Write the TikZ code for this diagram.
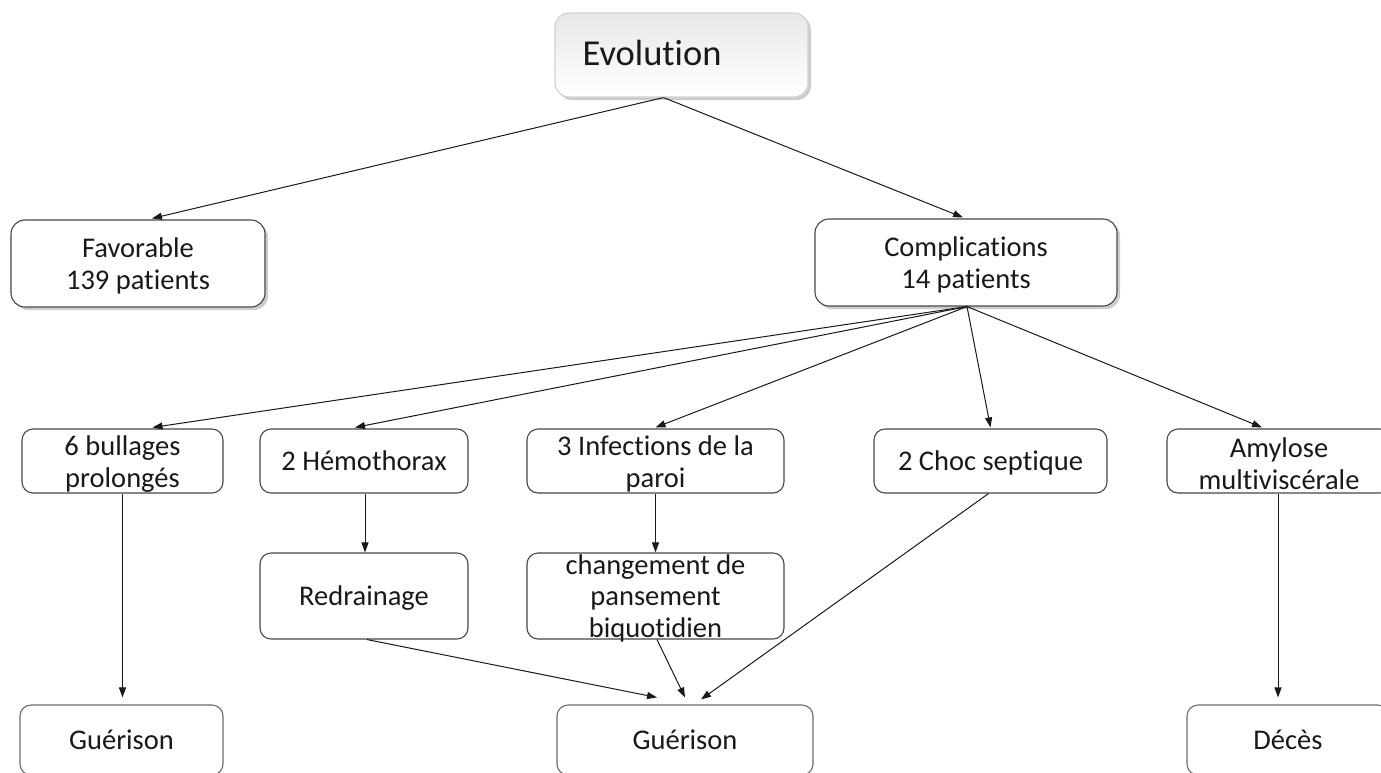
\documentclass[tikz,border=0pt]{standalone}
\usepackage{fontspec}
\setmainfont{Carlito}[Ligatures={NoCommon}]
\usetikzlibrary{arrows.meta,shadows}
\newcommand\myrise{\rule{0pt}{25pt}}
\begin{document}
\begin{tikzpicture}[x=1pt,y=-1pt,
  box/.style={draw=black!72, line width=1.1pt, rounded corners=11pt, fill=white, inner sep=0pt, align=center,
    font=\fontsize{28.5}{32}\selectfont, text=black!90},
  two/.style={inner ysep=-4pt},
  big/.style={box, rounded corners=14pt, drop shadow={shadow xshift=3pt, shadow yshift=-3pt, opacity=0.4}},
  one/.style={text height=21pt, text depth=3pt},
  low/.style={box, draw=black!58},
  arr/.style={-{Triangle[length=10pt,width=7pt]}, line width=1pt, draw=black!90},
]
\useasboundingbox (0,0) rectangle (1381,772);
\clip (0,0) rectangle (1381,772);

% nodes
\node[big, top color=black!9, bottom color=white, draw=black!18, minimum width=253pt, minimum height=84pt] (evo) at (681.5,55) {};
\node[font=\fontsize{36.5}{44}\selectfont, text=black!90, inner sep=0pt] (evot) at (652,53) {Evolution};
\node[big, two, minimum width=254pt, minimum height=87pt] (fav) at (138,263.5) {\myrise Favorable\\139 patients};
\node[big, two, minimum width=302pt, minimum height=87pt] (comp) at (966,262.5) {\myrise Complications\\14 patients};
\node[box, two, minimum width=201pt, minimum height=64pt] (bul) at (122.5,461) {\myrise 6 bullages\\prolongés};
\node[box, one, minimum width=208pt, minimum height=64pt] (hem) at (364,461) {2 Hémothorax};
\node[box, two, minimum width=257pt, minimum height=64pt] (inf) at (655.5,461) {\myrise 3 Infections de la\\paroi};
\node[box, one, minimum width=233pt, minimum height=64pt] (choc) at (990.5,461) {2 Choc septique};
\node[box, two, minimum width=224pt, minimum height=64pt] (amy) at (1279,461) {\myrise Amylose\\multiviscérale};
\node[box, one, minimum width=208pt, minimum height=86pt] (red) at (364,596) {Redrainage};
\node[box, inner ysep=-8pt, font=\fontsize{28.5}{31.5}\selectfont, minimum width=257pt, minimum height=86pt] (chg) at (655.5,596) {\rule{0pt}{24pt}changement de\\pansement\\biquotidien};
\node[low, one, minimum width=203pt, minimum height=70pt] (gl) at (121.5,740) {Guérison};
\node[low, one, minimum width=256pt, minimum height=70pt] (gm) at (685,740) {Guérison};
\node[low, one, minimum width=202pt, minimum height=70pt] (dec) at (1288,740) {Décès};

% connectors
\draw[arr] ([xshift=-18pt]evo.south) -- ([xshift=14pt,yshift=1pt]fav.north);
\draw[arr] ([xshift=-18pt]evo.south) -- ([xshift=-3pt,yshift=1pt]comp.north);
\draw[arr] ([xshift=1pt]comp.south) -- ([xshift=30pt,yshift=1pt]bul.north);
\draw[arr] ([xshift=1pt]comp.south) -- ([xshift=-9pt,yshift=1pt]hem.north);
\draw[arr] ([xshift=1pt]comp.south) -- ([yshift=1pt]inf.north);
\draw[arr] ([xshift=1pt]comp.south) -- ([yshift=1pt]choc.north);
\draw[arr] ([xshift=1pt]comp.south) -- ([xshift=-17pt,yshift=1pt]amy.north);
\draw[arr] (bul.south) -- ([xshift=1pt,yshift=7pt]gl.north);
\draw[arr] ([xshift=1pt]hem.south) -- ([xshift=1pt]red.north);
\draw[arr] (inf.south) -- (chg.north);
\draw[arr] ([xshift=3pt]red.south) -- ([xshift=-28pt,yshift=7pt]gm.north);
\draw[arr] ([xshift=1.5pt]chg.south) -- ([yshift=7pt]gm.north);
\draw[arr] ([xshift=-2pt]choc.south) -- ([xshift=16pt,yshift=5pt]gm.north);
\draw[arr] ([xshift=-1pt]amy.south) -- ([xshift=-10pt,yshift=7pt]dec.north);
\end{tikzpicture}
\end{document}
